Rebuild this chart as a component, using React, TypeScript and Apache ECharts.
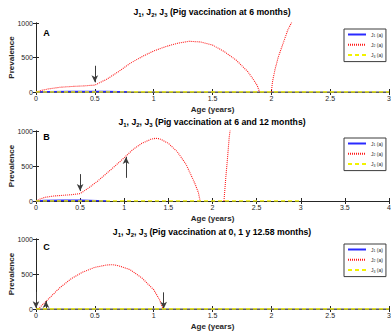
import React, { useEffect, useRef } from "react";
import * as echarts from "echarts";

// ---------- data ----------
// Panel A (vaccination at 6 months)
const ageJ2A = [0, 0.05, 0.1, 0.2, 0.3, 0.4, 0.5, 0.6, 0.7, 0.8, 0.9, 1.0, 1.1, 1.2, 1.3, 1.4, 1.5, 1.6, 1.7, 1.8, 1.85, 1.88, 1.9, 1.95, 2.0, 2.01, 2.03, 2.06, 2.1, 2.14, 2.17, 2.2, 2.25];
const j2A = [0, 25, 43, 68, 80, 88, 100, 184, 294, 415, 512, 594, 657, 705, 735, 725, 681, 585, 464, 295, 174, 95, 0, null, 0, 150, 319, 512, 705, 899, 1000, 1080, 1200];
const ageJ1A = [0, 0.1, 0.3, 0.5, 0.6, 0.7, 0.8];
const j1A = [0, 4, 7, 8, 6, 3, 0];
const ageJ3A = [0, 3];
const j3A = [0, 0];

// Panel B (vaccination at 6 and 12 months)
const ageJ2B = [0, 0.05, 0.1, 0.2, 0.3, 0.4, 0.5, 0.6, 0.7, 0.8, 0.9, 1.0, 1.1, 1.2, 1.3, 1.35, 1.4, 1.5, 1.6, 1.7, 1.8, 1.84, 1.86, 2.0, 2.13, 2.15, 2.17, 2.19, 2.21];
const j2B = [0, 30, 52, 71, 81, 90, 105, 190, 286, 395, 505, 619, 738, 824, 881, 895, 890, 824, 705, 524, 252, 120, 0, null, 0, 324, 610, 920, 1100];
const ageJ1B = [0, 0.1, 0.3, 0.5, 0.6, 0.7, 0.8];
const j1B = [0, 5, 9, 11, 8, 4, 0];
const ageJ3B = [0, 3];
const j3B = [0, 0];

// Panel C (vaccination at 0, 1 y 12.58 months)
const ageJ2C = [0, 0.02, 0.05, 0.1, 0.2, 0.3, 0.4, 0.5, 0.6, 0.65, 0.7, 0.8, 0.9, 1.0, 1.05, 1.08];
const j2C = [0, 0, 52, 133, 300, 433, 529, 595, 629, 633, 619, 562, 443, 276, 133, 0];
const ageJ1C = [0, 0.02];
const j1C = [0, 0];
const ageJ3C = [0, 3];
const j3C = [0, 0];

// vaccination arrows: [age, from value, to value]
const arrowsA = [[0.5, 380, 140]];
const arrowsB = [[0.5, 384, 142], [1.02, 331, 630]];
const arrowsC = [[0, 245, 10], [0.085, 0, 115], [1.085, 238, 5]];

const titles = [
  "(Pig vaccination at 6 months)",
  "(Pig vaccination at 6 and 12 months)",
  "(Pig vaccination at 0, 1 y 12.58 months)",
];
const panelLetters = ["A", "B", "C"];
const xMaxes = [3, 4, 3];
const legendNames = ["J1", "J2", "J3"];

// ---------- layout ----------
const FONT = "Liberation Sans, Arial, Helvetica, sans-serif";
const AX = "#262626";
const grids = [
  { left: 36, top: 23, width: 353, height: 69 },
  { left: 36, top: 131, width: 353, height: 70 },
  { left: 36, top: 239, width: 353, height: 70 },
];

const zip = (xs: number[], ys: (number | null)[]) => xs.map((x, i) => [x, ys[i]]);

export default function App() {
  const ref = useRef<HTMLDivElement>(null);
  useEffect(() => {
    if (!ref.current) return;
    const chart = echarts.init(ref.current, undefined, { renderer: "svg" });

    const xAxis: any[] = [];
    const yAxis: any[] = [];
    grids.forEach((_, g) => {
      const common = {
        type: "value",
        gridIndex: g,
        min: 0,
        max: xMaxes[g],
        interval: 0.5,
        splitLine: { show: false },
        axisLine: { show: true, lineStyle: { color: AX, width: 1 } },
        axisTick: { show: true, inside: true, length: 3, lineStyle: { color: AX } },
      };
      xAxis.push({
        ...common,
        position: "bottom",
        axisLabel: { fontSize: 7, color: AX, margin: 3, fontFamily: FONT, formatter: (v: number) => String(v) },
        name: "Age (years)",
        nameLocation: "middle",
        nameGap: 13,
        nameMoveOverlap: false,
        nameTextStyle: { fontSize: 8, fontWeight: "bold", color: AX, fontFamily: FONT },
      });
      xAxis.push({ ...common, position: "top", axisLabel: { show: false } });
      const ycommon = {
        type: "value",
        gridIndex: g,
        min: 0,
        max: 1000,
        interval: 500,
        splitLine: { show: false },
        axisLine: { show: true, lineStyle: { color: AX, width: 1 } },
        axisTick: { show: true, inside: true, length: 3, lineStyle: { color: AX } },
      };
      yAxis.push({
        ...ycommon,
        position: "left",
        axisLabel: { fontSize: 7, color: AX, margin: 3, fontFamily: FONT, formatter: (v: number) => String(v) },
        name: "Prevalence",
        nameLocation: "middle",
        nameGap: 21,
        nameMoveOverlap: false,
        nameTextStyle: { fontSize: 8, fontWeight: "bold", color: AX, fontFamily: FONT },
      });
      yAxis.push({ ...ycommon, position: "right", axisLabel: { show: false } });
    });

    const panels = [
      { j1: zip(ageJ1A, j1A), j2: zip(ageJ2A, j2A), j3: zip(ageJ3A, j3A), arrows: arrowsA, under: true },
      { j1: zip(ageJ1B, j1B), j2: zip(ageJ2B, j2B), j3: zip(ageJ3B, j3B), arrows: arrowsB, under: false },
      { j1: zip(ageJ1C, j1C), j2: zip(ageJ2C, j2C), j3: zip(ageJ3C, j3C), arrows: arrowsC, under: true },
    ];

    const series: any[] = [];
    panels.forEach((p, g) => {
      const ax = { xAxisIndex: g * 2, yAxisIndex: g * 2 };
      if (p.under) {
        series.push({
          ...ax,
          type: "line",
          name: "base" + g,
          data: p.j3,
          symbol: "none",
          silent: true,
          lineStyle: { color: "#8a8a8a", width: 1.6 },
          z: 2,
        });
      }
      series.push({
        ...ax,
        type: "line",
        name: "J1" + g,
        data: p.j1,
        symbol: "none",
        lineStyle: { color: "#2a2aff", width: 1.6, type: "solid" },
        z: 3,
      });
      series.push({
        ...ax,
        type: "line",
        name: "J2" + g,
        data: p.j2,
        symbol: "none",
        connectNulls: false,
        lineStyle: { color: "#ff1a1a", width: 1.1, type: [1, 1] },
        z: 4,
        markLine: {
          silent: true,
          symbol: ["none", "arrow"],
          symbolSize: [5, 7],
          label: { show: false },
          lineStyle: { color: "#3c3c3c", width: 1, type: "solid" },
          data: p.arrows.map((a) => [{ coord: [a[0], a[1]] }, { coord: [a[0], a[2]] }]),
        },
      });
      series.push({
        ...ax,
        type: "line",
        name: "J3" + g,
        data: p.j3,
        symbol: "none",
        lineStyle: { color: "#f2f200", width: 1.6, type: [4, 3] },
        z: 5,
      });
    });

    const legendTops = [29, 138, 244];
    const legend = grids.map((_, g) => ({
      data: legendNames.map((n) => n + g),
      orient: "vertical",
      left: 344,
      top: legendTops[g],
      itemWidth: 18,
      itemHeight: 6,
      itemGap: 4.3,
      padding: [3, 3, 3, 3],
      borderColor: "#3c3c3c",
      borderWidth: 1,
      backgroundColor: "#fff",
      selectedMode: false,
      itemStyle: { color: "rgba(0,0,0,0)", borderWidth: 0, opacity: 0 },
      formatter: (name: string) => `{n|J}{s|${name.charAt(1)}}{n| (a)}`,
      textStyle: {
        color: AX,
        fontFamily: FONT,
        fontSize: 5,
        rich: {
          n: { fontSize: 5, fontFamily: FONT, color: AX },
          s: { fontSize: 3.5, fontFamily: FONT, color: AX, padding: [3, 0, 0, 0] },
        },
      },
      itemTextGap: 2,
    }));

    const titleY = [12, 122, 232];
    const letterY = [33, 137, 247];
    const graphic: any[] = [];
    titles.forEach((t, g) => {
      graphic.push({
        type: "text",
        x: 212,
        y: titleY[g],
        z: 100,
        style: {
          text: `{b|J}{s|1}{b|, J}{s|2}{b|, J}{s|3}{b| ${t}}`,
          align: "center",
          verticalAlign: "middle",
          fill: "#000",
          rich: {
            b: { fontSize: 8.7, fontWeight: "bold", fontFamily: FONT, fill: "#000" },
            s: { fontSize: 6, fontWeight: "bold", fontFamily: FONT, fill: "#000", padding: [5, 0, 0, 0] },
          },
        },
      });
      graphic.push({
        type: "text",
        x: 46.5,
        y: letterY[g],
        style: {
          text: panelLetters[g],
          align: "center",
          verticalAlign: "middle",
          font: `bold 9px ${FONT}`,
          fill: "#000",
        },
      });
    });

    chart.setOption({
      animation: false,
      backgroundColor: "#fff",
      grid: grids.map((g) => ({ ...g, containLabel: false, outerBoundsMode: "none", show: false })),
      xAxis,
      yAxis,
      series,
      legend,
      graphic,
    });
    return () => chart.dispose();
  }, []);
  return (
    <div
      ref={ref}
      style={{ position: "absolute", left: 0, top: 0, width: 391, height: 331 }}
    />
  );
}
